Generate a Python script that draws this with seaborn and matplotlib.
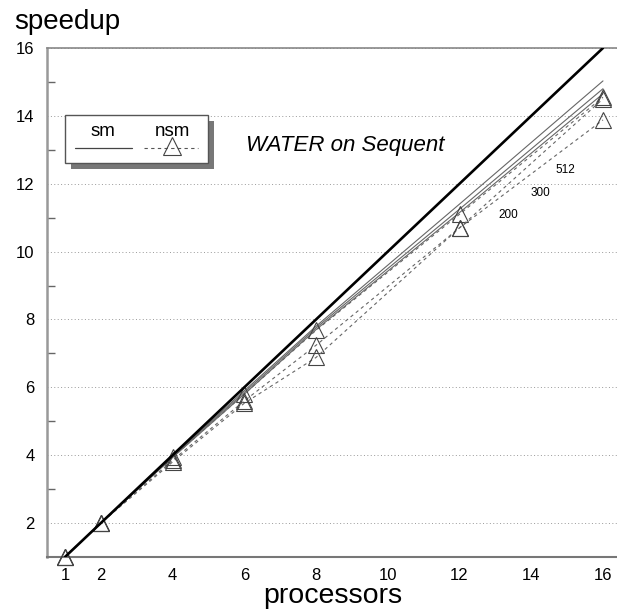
import matplotlib
matplotlib.use("Agg")
import matplotlib.pyplot as plt
import seaborn as sns
import pandas as pd
from matplotlib.patches import Rectangle
from matplotlib.lines import Line2D
from matplotlib.ticker import FixedLocator

# ---------------- data ----------------
processors = [1, 2, 4, 6, 8, 12, 16]
ideal = [1, 2, 4, 6, 8, 12, 16]
sm_512 = [1, 2, 3.97, 5.9, 7.8, 11.4, 15.03]
sm_300 = [1, 2, 3.95, 5.85, 7.75, 11.25, 14.8]
sm_200 = [1, 2, 3.93, 5.8, 7.7, 11.15, 14.65]
nsm_512 = [1, 2, 3.94, 5.8, 7.68, 11.1, 14.55]
nsm_300 = [1, 2, 3.85, 5.6, 7.24, 10.7, 14.5]
nsm_200 = [1, 2, 3.8, 5.53, 6.88, 10.7, 13.88]
size_labels = ["512", "300", "200"]
x_ticks = list(range(1, 17))
x_ticklabels = ["1", "2", "", "4", "", "6", "", "8", "", "10", "", "12", "", "14", "", "16"]
y_ticks = [2, 4, 6, 8, 10, 12, 14, 16]
y_minor = [3, 5, 7, 9, 11, 13, 15]

sns.set_style("white")
plt.rcParams["font.family"] = ["Liberation Sans", "DejaVu Sans"]
plt.rcParams["text.color"] = "black"
plt.rcParams["xtick.labelcolor"] = "black"
plt.rcParams["ytick.labelcolor"] = "black"

W, H = 617, 616
fig = plt.figure(figsize=(W / 100, H / 100), dpi=100)
ax = fig.add_axes([47 / W, (H - 557) / H, 570 / W, 509 / H])


def px(x, y):
    return x / W, 1 - y / H


ax.set_xlim(0.5, 0.5 + 570 / 35.87)
ax.set_ylim(1, 16)

# grid
ax.set_yticks(y_ticks)
ax.yaxis.set_minor_locator(FixedLocator(y_minor))
ax.yaxis.grid(True, which="major", linestyle=(0, (1, 2.5)), color="#999999", lw=0.7)
ax.xaxis.grid(False)

# ideal
df_ideal = pd.DataFrame({"p": processors, "s": ideal})
sns.lineplot(data=df_ideal, x="p", y="s", ax=ax, color="black", lw=1.9, zorder=5)

# sm lines
for ser in [sm_512, sm_300, sm_200]:
    d = pd.DataFrame({"p": processors, "s": ser})
    sns.lineplot(data=d, x="p", y="s", ax=ax, color="#666666", lw=0.8, zorder=4)

# nsm lines
for ser in [nsm_512, nsm_300, nsm_200]:
    d = pd.DataFrame({"p": processors, "s": ser})
    sns.lineplot(data=d, x="p", y="s", ax=ax, color="#666666", lw=0.8,
                 linestyle=(0, (3, 3)), marker="^", markersize=12,
                 markerfacecolor="none", markeredgecolor="#444444",
                 markeredgewidth=0.8, zorder=4, clip_on=False)

# ticks
ax.set_xticks(x_ticks)
ax.set_xticklabels(x_ticklabels)
ax.set_yticklabels([str(v) for v in y_ticks])
ax.tick_params(axis="x", which="major", direction="in", length=10, width=1,
               color="#666666", pad=8, labelsize=12, labelcolor="black")
ax.tick_params(axis="y", which="major", direction="in", length=9.5, width=1,
               color="#666666", pad=9, labelsize=12, labelcolor="black")
ax.tick_params(axis="y", which="minor", direction="in", length=6, width=1,
               color="#666666", left=True)
ax.set_xlabel("")
ax.set_ylabel("")

for s in ["left", "bottom", "top"]:
    ax.spines[s].set_visible(True)
ax.spines["right"].set_visible(False)
ax.spines["left"].set_color("#999999")
ax.spines["left"].set_linewidth(1.8)
ax.spines["bottom"].set_color("#777777")
ax.spines["bottom"].set_linewidth(1.5)
ax.spines["top"].set_color("#888888")
ax.spines["top"].set_linewidth(1.2)

# size labels
for lab, (x, y) in zip(size_labels, [(565, 170), (540, 193), (508, 215)]):
    fx, fy = px(x, y)
    fig.text(fx, fy, lab, fontsize=8.5, ha="center", va="center", color="black")

# title
fx, fy = px(345, 146)
fig.text(fx, fy, "WATER on Sequent", fontsize=16, style="italic",
         ha="center", va="center", color="black")

# axis labels
fx, fy = px(14, 22)
fig.text(fx, fy, "speedup", fontsize=20, ha="left", va="center", color="black")
fx, fy = px(333, 596)
fig.text(fx, fy, "processors", fontsize=20.5, ha="center", va="center", color="black")

# legend box (custom)
sx, sy = px(71, 169)
bx, by = px(65, 163)
fig.add_artist(Rectangle((sx, sy), 143 / W, 48 / H, transform=fig.transFigure,
                         facecolor="#777777", edgecolor="none", zorder=10))
fig.add_artist(Rectangle((bx, by), 143 / W, 48 / H, transform=fig.transFigure,
                         facecolor="white", edgecolor="#555555", lw=1.0, zorder=11))
fx, fy = px(103, 131)
fig.text(fx, fy, "sm", fontsize=13.5, ha="center", va="center", zorder=12, color="black")
fx, fy = px(172, 131)
fig.text(fx, fy, "nsm", fontsize=13.5, ha="center", va="center", zorder=12, color="black")
x0, y0 = px(75, 148)
x1, _ = px(132, 148)
fig.add_artist(Line2D([x0, x1], [y0, y0], transform=fig.transFigure,
                      color="#444444", lw=0.9, zorder=12))
x0, y0 = px(144, 148)
x1, _ = px(198, 148)
fig.add_artist(Line2D([x0, x1], [y0, y0], transform=fig.transFigure,
                      color="#555555", lw=0.8, linestyle=(0, (3, 3)), zorder=12))
mx, my = px(172, 146)
fig.add_artist(Line2D([mx], [my], transform=fig.transFigure, marker="^",
                      markersize=13, markerfacecolor="none",
                      markeredgecolor="#444444", markeredgewidth=0.8, zorder=12))

fig.savefig("out.png", dpi=100)
